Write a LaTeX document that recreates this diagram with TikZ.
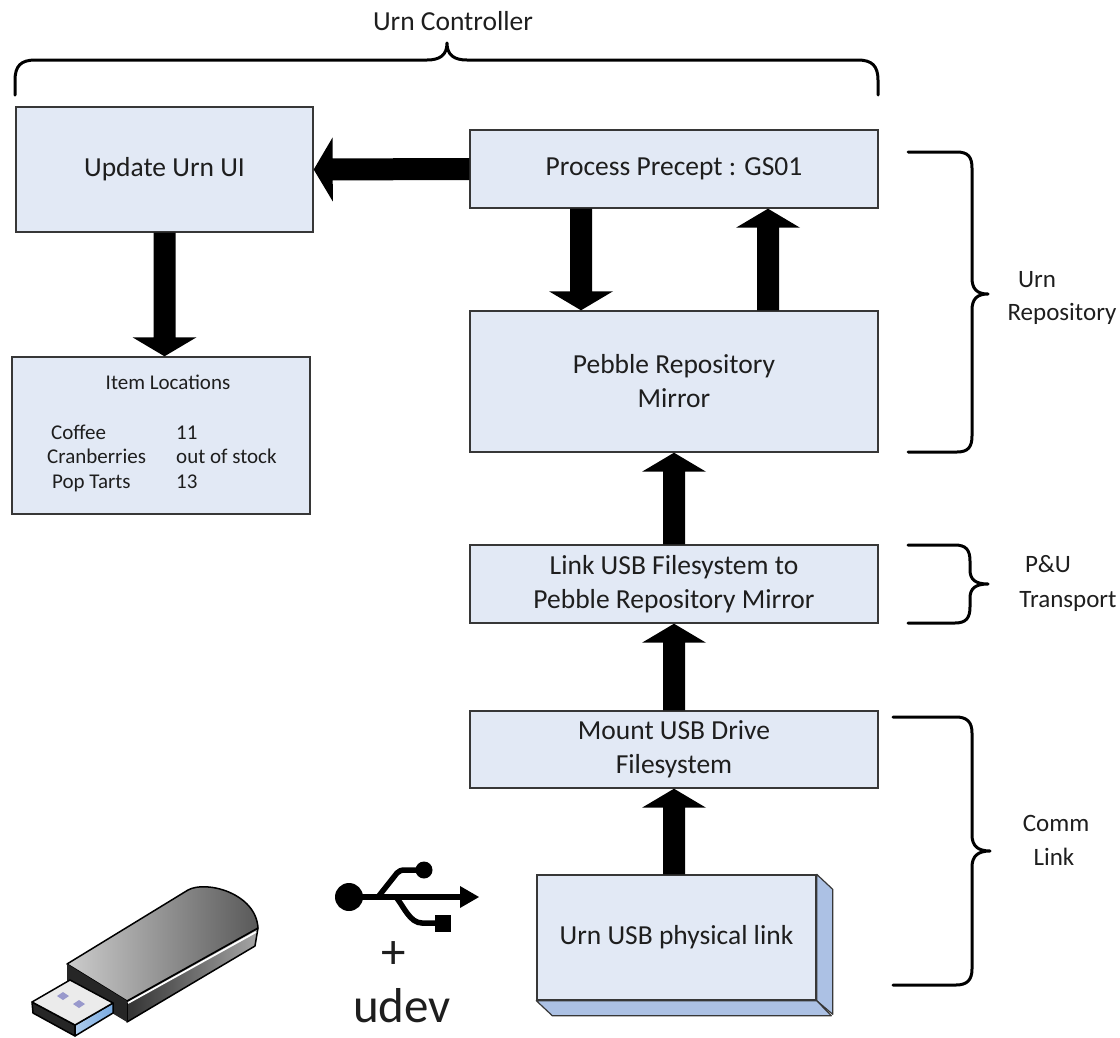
\documentclass[tikz,border=0pt]{standalone}
\usepackage{fontspec}
\setmainfont{Carlito}
\usetikzlibrary{calc}

\definecolor{boxfill}{RGB}{226,233,245}
\definecolor{boxline}{RGB}{55,55,55}
\definecolor{sidefill}{RGB}{172,193,228}
\definecolor{txt}{RGB}{30,30,30}
\definecolor{plugblue}{RGB}{120,170,225}

\tikzset{
  box/.style={draw=boxline, line width=1.4pt, fill=boxfill, text=txt,
    align=center, inner sep=0pt, font=\fontsize{27.5}{34}\selectfont},
  brace/.style={line width=3pt, line cap=round, line join=round},
  grouplabel/.style={text=txt, inner sep=0pt, font=\fontsize{25}{32}\selectfont},
  itemtext/.style={text=txt, inner sep=0pt, font=\fontsize{21}{25}\selectfont},
  usbline/.style={line width=5.5pt},
}

% thick block arrow from #1 to #2 (shaft 22, head 64 x 19)
\newcommand\blockarrow[2]{%
  \fill[black] let \p1=(#1), \p2=(#2),
    \n2={atan2(\y2-\y1,\x2-\x1)} in
    ($(\p1)+(\n2+90:11pt)$)
    -- ($(\p2)+(\n2+180:19pt)+(\n2+90:11pt)$)
    -- ($(\p2)+(\n2+180:19pt)+(\n2+90:32pt)$)
    -- (\p2)
    -- ($(\p2)+(\n2+180:19pt)+(\n2-90:32pt)$)
    -- ($(\p2)+(\n2+180:19pt)+(\n2-90:11pt)$)
    -- ($(\p1)+(\n2-90:11pt)$) -- cycle;}

\begin{document}
\begin{tikzpicture}[x=1pt,y=-1pt]
\useasboundingbox (0,0) rectangle (1120,1037);

% ---- process boxes ----
\node[box, minimum width=297pt, minimum height=125pt] (ui) at (164.5,169.5) {Update Urn UI};
\node[box, minimum width=408pt, minimum height=78pt] (proc) at (674,169) {Process Precept : GS01};
\node[box, minimum width=408pt, minimum height=141pt] (peb) at (674,381.5) {Pebble Repository\\Mirror};
\node[box, minimum width=298pt, minimum height=157pt] (items) at (161,435.5) {};
\node[box, minimum width=408pt, minimum height=78pt] (link) at (674,584) {Link USB Filesystem to\\Pebble Repository Mirror};
\node[box, minimum width=408pt, minimum height=77pt] (mount) at (674,749.5) {Mount USB Drive\\Filesystem};

% raised box for the physical link
\node[box, minimum width=279pt, minimum height=125pt] (usb) at (676.5,937.5) {Urn USB physical link};
\draw[draw=boxline, line width=1.2pt, fill=sidefill, line join=round]
  (usb.north east) -- ++(16,15) -- ++(0,125) -- (usb.south east) -- cycle;
\draw[draw=boxline, line width=1.2pt, fill=sidefill, line join=round]
  (usb.south west) -- ++(16,15) -- ++(279,0) -- (usb.south east) -- cycle;

% ---- item table ----
\node[itemtext, anchor=base] (ititle) at (168,389) {Item Locations};
\node[itemtext, anchor=base west] (i1) at (51,439) {Coffee};
\node[itemtext, anchor=base west] (i2) at (47,463) {Cranberries};
\node[itemtext, anchor=base west] (i3) at (52,488) {Pop Tarts};
\node[itemtext, anchor=base west] (v1) at (176,439) {11};
\node[itemtext, anchor=base west] (v2) at (176,463) {out of stock};
\node[itemtext, anchor=base west] (v3) at (176,488) {13};

% ---- block arrows ----
\blockarrow{proc.west}{ui.east}
\blockarrow{ui.south}{ui.south |- items.north}
\blockarrow{$(proc.south)+(-93,0)$}{$(peb.north)+(-93,0)$}
\blockarrow{$(peb.north)+(94,0)$}{$(proc.south)+(94,0)$}
\blockarrow{link.north}{peb.south}
\blockarrow{mount.north}{link.south}
\blockarrow{mount.south |- usb.north}{mount.south}

% ---- group braces ----
\draw[brace] (15,95) -- (15,80) .. controls (15,66) and (21,60) .. (35,60) -- (427,60)
  .. controls (440,60) and (447,55) .. (447,43)
  .. controls (447,55) and (454,60) .. (467,60) -- (858,60)
  .. controls (872,60) and (878,66) .. (878,80) -- (878,95);
\node[grouplabel, font=\fontsize{27.5}{32}\selectfont] (gctl) at (453,21) {Urn Controller};

\draw[brace] (908,152) -- (957,152) .. controls (968,152) and (972,157) .. (972,168) -- (972,278)
  .. controls (972,289) and (977,294) .. (988,294)
  .. controls (977,294) and (972,299) .. (972,310) -- (972,436)
  .. controls (972,447) and (968,452) .. (957,452) -- (908,452);
\node[grouplabel] (grep1) at (1037,280) {Urn};
\node[grouplabel] (grep2) at (1062,314) {Repository};

\draw[brace] (908,545) -- (955,545) .. controls (966,545) and (970,550) .. (970,561) -- (970,570)
  .. controls (970,580) and (976,584) .. (988,584)
  .. controls (976,584) and (970,588) .. (970,598) -- (970,607)
  .. controls (970,618) and (966,623) .. (955,623) -- (908,623);
\node[grouplabel] (gpu1) at (1048,564) {P\&U};
\node[grouplabel] (gpu2) at (1068,601) {Transport};

\draw[brace] (893,717) -- (956,717) .. controls (967,717) and (972,722) .. (972,733) -- (972,835)
  .. controls (972,846) and (978,851) .. (990,851)
  .. controls (978,851) and (972,856) .. (972,867) -- (972,969)
  .. controls (972,980) and (967,985) .. (956,985) -- (893,985);
\node[grouplabel] (gcl1) at (1056,823) {Comm};
\node[grouplabel] (gcl2) at (1054,857) {Link};

% ---- USB trident symbol ----
\fill (349,897) circle (14);
\draw[usbline] (349,897) -- (463,897);
\fill (460,886) -- (479,897) -- (460,908) -- cycle;
\draw[usbline, line join=round] (378,897) -- (397,873) .. controls (399,871) and (401,870) .. (405,870) -- (420,870);
\fill (424,870) circle (8.5);
\draw[usbline] (396,897) .. controls (404,907) and (410,923) .. (422,923) -- (437,923);
\fill (435,915) rectangle (451,932);
\node[text=txt, inner sep=0pt, font=\fontsize{49}{52}\selectfont] (plus) at (394,955) {+};
\node[text=txt, inner sep=0pt, anchor=base, font=\fontsize{49}{52}\selectfont] (udev) at (402,1022) {udev};

% ---- USB flash drive ----
\begin{scope}[line width=1.5pt, line join=round]
  % lower side of the casing
  \shade[left color=black!80, right color=black!35, draw=black]
    (127,1001) -- (258,928) -- (255,946) -- (127,1022) -- cycle;
  % upper face of the casing
  \shade[left color=black!20, right color=black!65, draw=black]
    (67,964) -- (188,890) .. controls (206,880) and (256,893) .. (258,928) -- (127,1001) -- cycle;
  \draw[white, line width=1.8pt] (128,1003) -- (256,932);
  % end face of the casing
  \fill[black!85] (67,964) -- (127,1001) -- (127,1022) -- (67,986) -- cycle;
  % connector plug
  \fill[black!85, draw=black] (32,1002) -- (75,1025) -- (75,1036) -- (33,1013) -- cycle;
  \shade[left color=plugblue!60, right color=plugblue, draw=black]
    (75,1025) -- (113,1003) -- (113,1013) -- (75,1036) -- cycle;
  \fill[black!8, draw=black] (32,1002) -- (70,980) -- (113,1003) -- (75,1025) -- cycle;
  \fill[black!50!blue!40] (57,996) -- (63,992) -- (69,996) -- (63,1000) -- cycle;
  \fill[black!50!blue!40] (73,1004) -- (79,1000) -- (85,1004) -- (79,1008) -- cycle;
\end{scope}
\end{tikzpicture}
\end{document}
